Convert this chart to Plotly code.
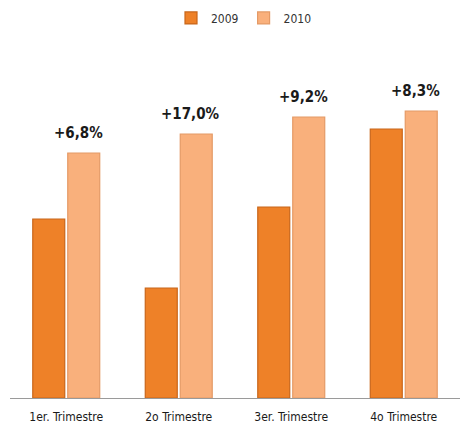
import plotly.graph_objects as go

categories = ["1er. Trimestre", "2o Trimestre", "3er. Trimestre", "4o Trimestre"]
values_2009 = [179, 110, 191, 269]
values_2010 = [245, 264, 281, 287]
growth_labels = ["+6,8%", "+17,0%", "+9,2%", "+8,3%"]

FONT = "DejaVu Sans Condensed, Liberation Sans Narrow, Arial Narrow, sans-serif"

fig = go.Figure()
fig.add_trace(go.Bar(
    name="2009", x=categories, y=values_2009,
    marker=dict(color="#EE8128", line=dict(color="#C8661A", width=1.2)),
))
fig.add_trace(go.Bar(
    name="2010", x=categories, y=values_2010,
    marker=dict(color="#F9B07C", line=dict(color="#E49A66", width=1.2)),
))

for cat, v, lab in zip(categories, values_2010, growth_labels):
    fig.add_annotation(
        x=cat, y=v, text="<b>%s</b>" % lab, showarrow=False,
        xshift=12, yshift=20, yanchor="middle",
        font=dict(family=FONT, size=15, color="#1a1a1a"),
    )

fig.update_layout(
    width=470, height=432,
    margin=dict(l=2, r=18, t=52, b=42, autoexpand=False),
    paper_bgcolor="white", plot_bgcolor="white",
    barmode="group", bargap=0.378, bargroupgap=0.086,
    showlegend=True,
    legend=dict(orientation="h", x=0.52, xanchor="center",
                yref="container", y=0.977, yanchor="middle",
                font=dict(family=FONT, size=12, color="#333"),
                itemwidth=30, traceorder="normal", tracegroupgap=0,
                bgcolor="rgba(0,0,0,0)"),
    xaxis=dict(showline=True, linecolor="#9a9a9a", linewidth=1, ticks="",
               automargin=False, ticklabelstandoff=8,
               tickfont=dict(family=FONT, size=12, color="#1a1a1a"),
               showgrid=False),
    yaxis=dict(range=[0, 338], visible=False, showgrid=False, zeroline=False,
               automargin=False),
)

fig.write_html("out.html")
